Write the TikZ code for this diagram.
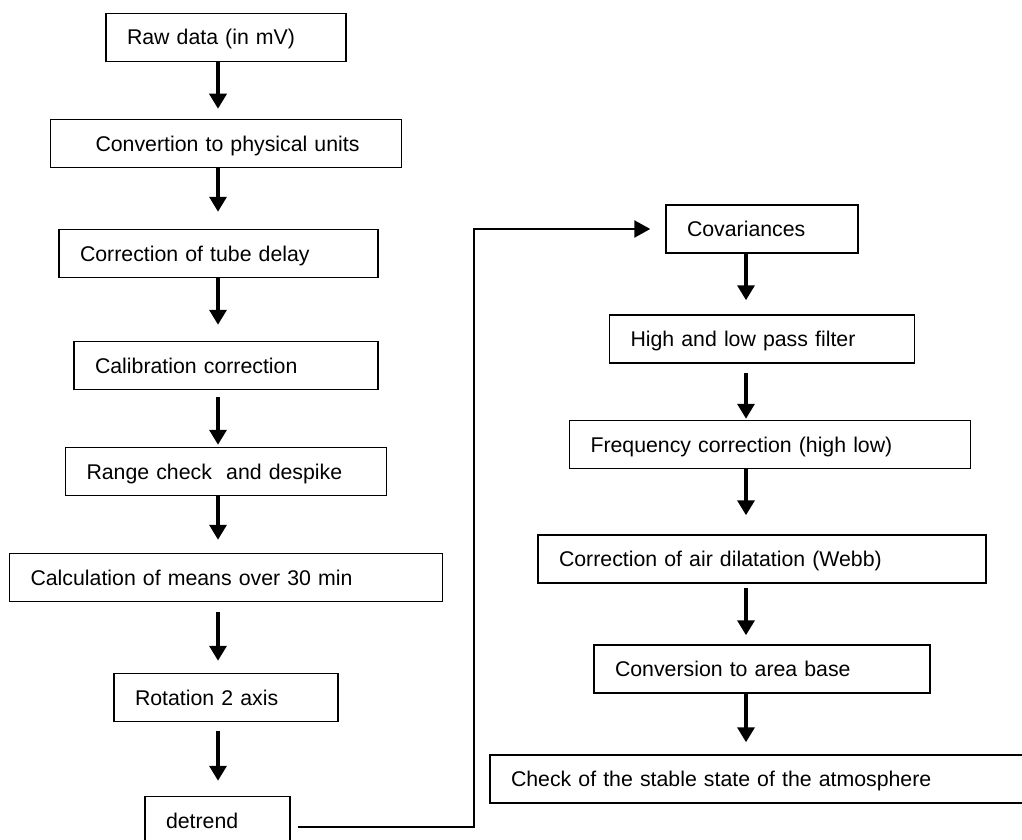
\documentclass[tikz,border=0pt]{standalone}
\usepackage{fontspec}
\setmainfont{Liberation Sans}
\usetikzlibrary{positioning,arrows.meta}

\begin{document}
\begin{tikzpicture}[node distance={110pt}, x=1pt, y=1pt,
    stepbox/.style = {draw, line width=1.5pt, minimum height=48pt, inner xsep=21pt, align=left, text height=15pt, text depth=0pt, font=\fontsize{21.3}{25}\selectfont},
    flow/.style = {line width=3.5pt, -{Triangle[width=17pt,length=15pt]}},
    link/.style = {line width=2.5pt, -{Triangle[width=17pt,length=16pt]}}]
    \useasboundingbox (0,0) rectangle (1022,-840);
    \coordinate (leftaxis) at (218,0);
    \coordinate (rightaxis) at (746,0);
    \coordinate (turn) at (474,-500);
    % left column
    \node[stepbox, text width=198pt] (raw) at (226,-37.5) {Raw data (in mV)};
    \node[stepbox, text width=309pt] (units) [below of=raw, yshift=4pt] {\hspace*{24pt}Convertion to physical units};
    \node[stepbox, text width=277pt] (delay) [below of=units, xshift=-7.5pt] {Correction of tube delay};
    \node[stepbox, text width=262pt] (calib) [below of=delay, xshift=7.5pt, yshift=-2pt] {Calibration correction};
    \node[stepbox, text width=279pt] (despike) [below of=calib, yshift=4pt] {Range check~ and despike};
    \node[stepbox, text width=391pt] (means) [below of=despike, yshift=4pt] {Calculation of means over 30 min};
    \node[stepbox, text width=182pt] (rotation) [below of=means, yshift=-10pt] {Rotation 2 axis};
    \node[stepbox, text width=103pt] (detrend) [below of=rotation, xshift=-8.5pt, yshift=-13pt] {detrend};
    % right column
    \node[stepbox, text width=150pt] (cov) at (762,-229) {Covariances};
    \node[stepbox, text width=263pt] (filter) [below of=cov] {High and low pass filter};
    \node[stepbox, text width=359pt] (freq) [below of=filter, xshift=8pt, yshift=4.5pt] {Frequency correction (high low)};
    \node[stepbox, text width=406pt] (webb) [below of=freq, xshift=-8pt, yshift=-4.5pt] {Correction of air dilatation (Webb)};
    \node[stepbox, text width=294pt] (area) [below of=webb] {Conversion to area base};
    \node[stepbox, text width=491pt] (stable) [below of=area, xshift=-5.5pt] {Check of the stable state of the atmosphere};
    % arrows
    \draw[flow, shorten >=10pt] (raw.south -| leftaxis) -- (units.north -| leftaxis);
    \draw[flow, shorten >=17pt] (units.south -| leftaxis) -- (delay.north -| leftaxis);
    \draw[flow, shorten >=16pt] (delay.south -| leftaxis) -- (calib.north -| leftaxis);
    \draw[flow, shorten <=7pt, shorten >=2pt] (calib.south -| leftaxis) -- (despike.north -| leftaxis);
    \draw[flow, shorten >=13pt] (despike.south -| leftaxis) -- (means.north -| leftaxis);
    \draw[flow, shorten <=10pt, shorten >=12pt] (means.south -| leftaxis) -- (rotation.north -| leftaxis);
    \draw[flow, shorten <=9pt, shorten >=15pt] (rotation.south -| leftaxis) -- (detrend.north -| leftaxis);
    \draw[link] ([xshift=7pt, yshift=-6.5pt]detrend.east) -| (turn) |- ([xshift=-15pt]cov.west);
    \draw[flow, shorten >=14pt] (cov.south -| rightaxis) -- (filter.north -| rightaxis);
    \draw[flow, shorten <=9pt, shorten >=1pt] (filter.south -| rightaxis) -- (freq.north -| rightaxis);
    \draw[flow, shorten >=19pt] (freq.south -| rightaxis) -- (webb.north -| rightaxis);
    \draw[flow, shorten <=4pt, shorten >=9pt] (webb.south -| rightaxis) -- (area.north -| rightaxis);
    \draw[flow, shorten >=12pt] (area.south -| rightaxis) -- (stable.north -| rightaxis);
\end{tikzpicture}
\end{document}
